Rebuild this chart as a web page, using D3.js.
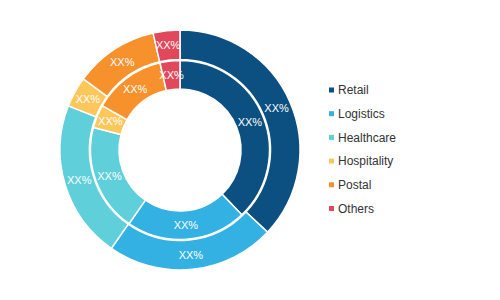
<!DOCTYPE html>
<html><head><meta charset="utf-8">
<script src="https://cdn.jsdelivr.net/npm/d3@7"></script>
<style>body{margin:0;background:#fff}svg{display:block}</style>
</head><body>
<svg id="c" width="500" height="300"></svg>
<script>
const categories = ["Retail","Logistics","Healthcare","Hospitality","Postal","Others"];
const outerValues = [37.0, 22.7, 21.3, 4.1, 11.3, 3.6];
const innerValues = [38.0, 21.8, 19.5, 4.2, 13.2, 3.6];
const labelText = "XX%";
const colors = ["#0b5080","#33b1e3","#5fcfd9","#fec75b","#f7912c","#e1485b"];

const svg = d3.select("#c");
const cx = 180, cy = 150;
const color = d3.scaleOrdinal().domain(categories).range(colors);
const pie = d3.pie().sort(null).value(d => d.v);

function ring(values, r0, r1) {
  const data = pie(categories.map((c,i)=>({c, v: values[i]})));
  const arc = d3.arc().innerRadius(r0).outerRadius(r1);
  const g = svg.append("g").attr("transform", `translate(${cx},${cy})`);
  g.selectAll("path").data(data).join("path")
    .attr("d", arc).attr("fill", d => color(d.data.c))
    .attr("stroke", "#fff").attr("stroke-width", 1.5);
  g.selectAll("text").data(data).join("text")
    .attr("transform", d => `translate(${arc.centroid(d)})`)
    .attr("text-anchor", "middle").attr("dy", "0.35em")
    .attr("fill", "#fff").attr("font-family", "Liberation Sans, Arial, sans-serif")
    .attr("font-size", 11).text(labelText);
}
ring(outerValues, 90.5, 120);
ring(innerValues, 61, 89.5);

const lg = svg.append("g").attr("transform", "translate(329,90)");
const rows = lg.selectAll("g").data(categories).join("g")
  .attr("transform", (d,i) => `translate(0,${i*23.7})`);
rows.append("rect").attr("x", 0).attr("y", -2.5).attr("width", 5).attr("height", 5)
  .attr("fill", d => color(d));
rows.append("text").attr("x", 9).attr("dy", "0.35em")
  .attr("font-family", "Liberation Sans, Arial, sans-serif").attr("font-size", 12)
  .attr("fill", "#333").text(d => d);
</script>
</body></html>
